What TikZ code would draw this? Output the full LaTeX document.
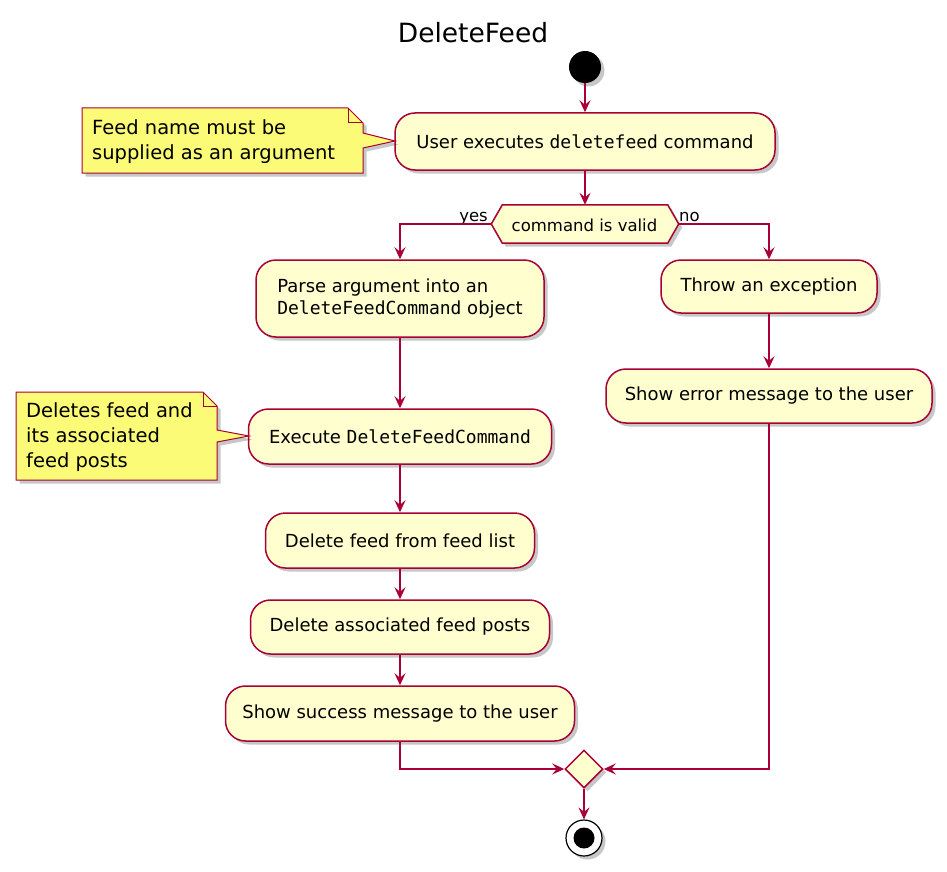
\documentclass[tikz,border=0pt]{standalone}
\usepackage{fontspec}
\setmainfont{DejaVu Sans}
\setmonofont{DejaVu Sans Mono}
\usetikzlibrary{arrows.meta,shadows,calc,shapes.geometric}
\definecolor{bord}{HTML}{A80036}
\definecolor{actfill}{HTML}{FEFECE}
\definecolor{notefill}{HTML}{FBFB77}
\begin{document}
\begin{tikzpicture}[x=1pt,y=-1pt,
  shad/.style={drop shadow={shadow xshift=3.5pt,shadow yshift=-3.5pt,opacity=0.22,fill=black}},
  act/.style={draw=bord,fill=actfill,line width=1.5pt,rounded corners=20pt,inner sep=0pt,align=center,font=\fontsize{18}{22}\selectfont,shad},
  notebox/.style={draw=bord,fill=notefill,line width=1pt,shad},
  notetext/.style={anchor=west,align=left,inner sep=0pt,font=\fontsize{19.5}{25}\selectfont},
  arr/.style={draw=bord,line width=1.5pt,-{Stealth[length=12pt,width=11pt,inset=4.5pt]}},
  lbl/.style={inner sep=0pt,font=\fontsize{16.5}{20}\selectfont}
]
\useasboundingbox (0,0) rectangle (947,872);

% title
\node[anchor=base,inner sep=0pt,font=\fontsize{26.5}{30}\selectfont] (title) at (473,43) {DeleteFeed};

% start
\node[circle,fill=black,minimum size=32pt,inner sep=0pt,shad] (start) at (585,67) {};

% user executes
\node[act,minimum width=380pt,minimum height=57pt] (user) at (585,141.5) {User executes \texttt{deletefeed} command};

% note 1
\path[notebox] (82,108) -- (348,108) -- (363,123) -- (363,133) -- (395,141) -- (363,148) -- (363,173) -- (82,173) -- cycle;
\draw[bord,line width=1pt] (348,108) -- (348,123) -- (363,123);
\node[notetext] (note1) at (92,142) {Feed name must be\\supplied as an argument};

% decision
\node[lbl,minimum width=187pt,minimum height=38pt] (valid) at (585,224) {};
\path[draw=bord,fill=actfill,line width=1.5pt,shad] (valid.west) -- ([xshift=11pt]valid.north west) -- ([xshift=-11pt]valid.north east) -- (valid.east) -- ([xshift=-11pt]valid.south east) -- ([xshift=11pt]valid.south west) -- cycle;
\node[lbl] (validtext) at (584.5,225) {command is valid};
\node[lbl,anchor=base east] (yes) at (488,221) {yes};
\node[lbl,anchor=base west] (no) at (679,221) {no};

% yes branch
\node[act,minimum width=288pt,minimum height=77pt,align=left] (parse) at (400,298.5) {Parse argument into an\\\texttt{DeleteFeedCommand} object};
\node[act,minimum width=303pt,minimum height=55pt] (exec) at (400,436.5) {Execute \texttt{DeleteFeedCommand}};
\node[act,minimum width=269pt,minimum height=55pt] (delfeed) at (400,540.5) {Delete feed from feed list};
\node[act,minimum width=299pt,minimum height=54pt] (delassoc) at (400,627) {Delete associated feed posts};
\node[act,minimum width=349pt,minimum height=55pt] (success) at (400,713.5) {Show success message to the user};

% note 2
\path[notebox] (16,392) -- (203,392) -- (217,406) -- (217,430) -- (249,436) -- (217,442) -- (217,480) -- (16,480) -- cycle;
\draw[bord,line width=1pt] (203,392) -- (203,406) -- (217,406);
\node[notetext] (note2) at (26,437) {Deletes feed and\\its associated\\feed posts};

% no branch
\node[act,minimum width=216pt,minimum height=53pt] (throw) at (769,286.5) {Throw an exception};
\node[act,minimum width=326pt,minimum height=54pt] (err) at (769,396) {Show error message to the user};

% merge
\node[diamond,draw=bord,fill=actfill,line width=1.5pt,minimum size=38pt,inner sep=0pt,shad] (merge) at (584,769) {};
\node[circle,draw=black,fill=white,line width=1.2pt,minimum size=36pt,inner sep=0pt,shad] (endo) at (584,838) {};
\node[circle,fill=black,minimum size=21pt,inner sep=0pt] (endi) at (584,838) {};

% connectors
\draw[arr] (start) -- (user);
\draw[arr] (user) -- (valid.north);
\draw[arr] (valid.west) -| (parse.north);
\draw[arr] (valid.east) -| (throw.north);
\draw[arr] (parse) -- (exec);
\draw[arr] (exec) -- (delfeed);
\draw[arr] (delfeed) -- (delassoc);
\draw[arr] (delassoc) -- (success);
\draw[arr] (throw) -- (err);
\draw[arr] (success.south) |- (merge.west);
\draw[arr] (err.south) |- (merge.east);
\draw[arr] (merge) -- (endo);
\end{tikzpicture}
\end{document}
